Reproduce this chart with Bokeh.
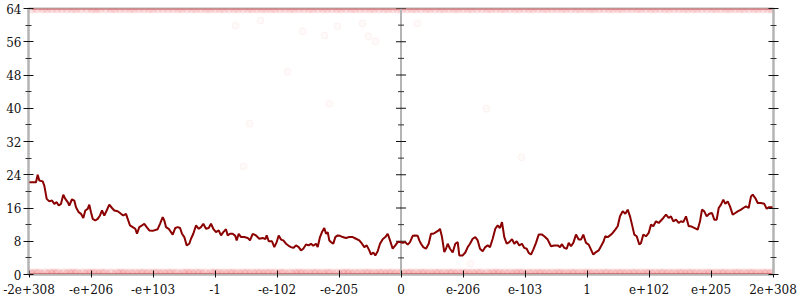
from bokeh.plotting import figure
from bokeh.models import Range1d, FixedTicker, LinearAxis, CustomLabelingPolicy
from bokeh.embed import file_html
from bokeh.resources import INLINE

# ---- data -------------------------------------------------------------
tick_pos = [-372, -310, -248, -186, -124, -62, 0, 62, 124, 186, 248, 310, 372]
tick_labels = ["-2e+308", "-e+206", "-e+103", "-1", "-e-102", "-e-205", "0",
               "e-206", "e-103", "1", "e+102", "e+205", "2e+308"]
y_major = [0, 8, 16, 24, 32, 40, 48, 56, 64]
y_minor = [4, 12, 20, 28, 36, 44, 52, 60]

line_x = [-372, -365.0, -363.3, -361.7, -358.3, -356.7, -354.3, -351.7, -349.0, -346.7,
          -344.3, -342.3, -340.0, -337.7, -335.7, -333.3, -331.7, -329.0, -326.7, -325.0,
          -322.3, -320.0, -317.7, -315.7, -313.3, -311.7, -310.0, -308.3, -305.7, -303.3,
          -301.0, -299.0, -296.7, -294.3, -291.7, -289.0, -286.7, -283.3, -280.0, -277.7,
          -275.0, -273.3, -271.0, -268.3, -265.7, -264.0, -261.7, -259.0, -256.7, -254.3,
          -251.7, -248.3, -243.3, -241.0, -238.3, -236.7, -235.0, -232.3, -230.0, -228.3,
          -225.7, -223.3, -221.0, -219.0, -216.7, -214.3, -211.7, -210.0, -207.7, -205.0,
          -202.3, -200.0, -197.7, -195.0, -192.3, -190.0, -187.7, -185.0, -182.3, -180.0,
          -177.7, -175.0, -173.3, -171.0, -168.3, -165.7, -164.3, -162.3, -160.0, -156.7,
          -153.3, -151.0, -148.3, -145.0, -141.7, -138.3, -135.7, -134.3, -132.3, -129.0,
          -126.7, -124.3, -122.3, -120.0,
          -117.7, -115.0, -112.3, -110.0, -107.7, -105.0, -102.3, -100.0, -97.7, -95.0,
          -92.3, -90.0, -87.7, -85.0, -83.3, -81.0, -79.0, -76.7, -75.0, -73.3,
          -71.7, -70.0, -67.7, -65.7, -63.3, -61.0, -58.3, -55.0, -51.7, -48.3,
          -45.0, -41.7, -39.0, -36.7, -34.3, -31.7, -30.0, -27.7, -25.7, -23.3,
          -21.0, -18.3, -15.7, -13.3, -11.0, -8.3, -5.7, -3.3, -1.0, 1.7,
          4.3, 6.7, 9.0, 11.7, 14.3, 16.7, 18.3, 20.0, 22.3, 25.0,
          27.7, 30.0, 32.3, 35.0, 37.7, 39.0, 41.0, 43.3, 45.0, 46.7,
          49.0, 51.7, 54.3, 56.7, 58.3, 61.7, 64.3, 66.7, 69.0, 71.7,
          74.3, 76.7, 79.0, 81.7, 84.3, 86.7, 89.0, 91.7, 94.3, 96.7,
          99.0, 101.0, 103.3, 105.7, 108.3, 111.0, 113.3, 115.7, 118.3, 121.0,
          123.3, 125.7,
          127.7, 130.0, 132.3, 135.0, 137.7, 141.0, 143.3, 146.7, 150.0, 153.3,
          156.7, 159.0, 161.0, 163.3, 165.7, 167.7, 170.0, 172.3, 175.0, 177.7,
          180.0, 182.3, 185.0, 187.7, 190.0, 192.3, 195.0, 197.7, 200.0, 202.3,
          204.3, 206.7, 209.0, 211.7, 214.3, 216.7, 219.0, 221.7, 224.3, 226.7,
          229.0, 231.0, 233.3, 235.7, 238.3, 240.0, 242.3, 245.0, 247.7, 250.0,
          252.3, 255.0, 257.7, 260.0, 262.3, 265.0, 267.7, 270.0, 272.3, 275.0,
          277.7, 280.0, 282.3, 285.0, 287.7, 290.0, 293.3, 296.7, 299.0, 301.0,
          303.3, 305.7, 308.3, 311.0, 313.3, 315.7, 317.7, 320.0, 322.3, 324.3,
          326.7, 329.0, 331.7, 334.3, 336.7, 340.0, 342.3, 345.0, 347.7, 350.0,
          351.7, 354.3, 356.7, 360.0, 363.3, 365.7, 367.7, 370.0, 372.3]
line_y = [22.2, 22.2, 24.0, 22.6, 22.4, 21.4, 18.2, 17.6, 17.8, 17.0,
          17.4, 16.6, 17.0, 19.2, 18.2, 17.4, 16.6, 18.1, 17.8, 16.2,
          15.0, 14.6, 13.6, 15.4, 15.8, 16.8, 15.0, 13.4, 13.0, 13.4,
          14.2, 15.4, 14.2, 15.4, 16.8, 16.0, 15.4, 15.2, 14.6, 14.2,
          14.6, 13.4, 11.8, 11.4, 11.0, 9.8, 11.4, 11.8, 12.2, 11.4,
          10.6, 10.5, 10.9, 12.2, 13.8, 13.0, 11.4, 11.0, 10.2, 9.6,
          11.2, 11.4, 11.2, 9.8, 9.0, 7.0, 7.4, 8.6, 9.8, 11.8,
          11.0, 11.4, 12.2, 11.0, 11.2, 12.2, 11.0, 10.2, 10.6, 9.4,
          10.2, 10.9, 9.4, 9.8, 9.8, 9.3, 8.2, 9.8, 9.0, 9.0,
          8.8, 8.2, 9.8, 9.4, 8.6, 8.8, 8.5, 9.4, 8.0, 8.0,
          6.6, 7.8, 9.4, 8.4,
          8.2, 7.4, 6.9, 6.6, 6.4, 7.0, 6.6, 5.8, 6.2, 7.2,
          7.0, 7.4, 6.9, 7.4, 6.6, 9.0, 10.2, 11.2, 9.8, 10.2,
          8.2, 7.8, 7.4, 9.0, 9.4, 9.3, 9.0, 8.8, 9.0, 9.0,
          8.6, 8.2, 7.4, 6.6, 7.0, 5.8, 4.8, 5.3, 4.6, 5.6,
          7.4, 8.5, 9.0, 9.8, 8.2, 6.2, 7.0, 7.8, 7.8, 7.6,
          7.8, 7.2, 7.8, 9.3, 9.4, 9.3, 8.2, 7.4, 6.6, 6.2,
          7.4, 9.8, 9.8, 10.2, 10.6, 11.0, 9.0, 5.4, 6.2, 7.4,
          6.2, 5.3, 7.4, 7.8, 4.6, 4.6, 5.3, 6.6, 7.4, 8.6,
          9.0, 8.2, 6.2, 5.6, 6.6, 7.0, 6.6, 8.6, 11.0, 11.8,
          11.2, 12.6, 9.0, 7.4, 7.8, 8.5, 7.4, 8.0, 7.0, 7.4,
          6.4, 6.2,
          5.2, 4.8, 6.0, 7.6, 9.6, 9.6, 9.2, 8.4, 6.8, 7.0,
          7.0, 6.6, 7.3, 6.4, 6.2, 7.6, 6.8, 7.6, 9.6, 8.4,
          8.4, 9.6, 7.6, 7.2, 6.0, 4.8, 5.4, 5.8, 6.8, 7.8,
          9.2, 9.0, 9.4, 10.0, 10.8, 11.6, 14.0, 15.2, 14.6, 15.6,
          14.0, 12.0, 9.6, 9.2, 7.2, 7.6, 9.6, 9.2, 10.0, 12.0,
          11.6, 12.8, 12.4, 13.0, 13.6, 14.4, 13.6, 14.0, 12.8, 13.2,
          12.4, 12.8, 12.6, 14.0, 11.6, 11.6, 11.2, 10.8, 12.8, 15.6,
          15.2, 14.0, 14.6, 14.8, 13.2, 13.2, 16.0, 16.8, 18.0, 17.0,
          17.6, 16.4, 14.4, 14.8, 15.2, 15.6, 16.0, 16.4, 16.0, 18.8,
          19.2, 18.4, 17.2, 17.2, 17.0, 15.8, 16.2, 16.2, 16.2]

# dense bands of points at the extremes
low_x = [-371, -366, -362, -356, -351, -347, -343, -337, -332, -328, -324, -318, -313,
         -309, -305, -300, -296, -290, -284, -280, -276, -271, -266, -261, -257, -252,
         -247, -243, -238, -233, -229, -224, -218, -214, -210, -205, -201, -196, -190,
         -186, -182, -177, -172, -168, -163, -158, -154, -149, -144, -140, -135, -131,
         -126, -121, -117, -111, -106, -102, -98, -93, -88, -84, -79, -74, -70, -64,
         -59, -55, -51, -46, -41, -36, -32, -27, -22, -18, -13, -9, -4, 1, 6, 10, 15,
         20, 24, 29, 34, 38, 43, 48, 52, 57, 62, 66, 71, 76, 80, 86, 91, 95, 99, 104,
         109, 114, 118, 122, 127, 132, 137, 141, 146, 151, 156, 160, 165, 170, 174, 179,
         184, 188, 193, 198, 203, 207, 212, 217, 221, 226, 231, 235, 240, 245, 249, 254,
         259, 263, 268, 273, 278, 282, 287, 291, 296, 301, 306, 310, 315, 320, 324, 329,
         334, 338, 343, 348, 352, 357, 362, 366, 371]
high_x = [-369, -364, -358, -354, -349, -344, -339, -334, -329, -325, -320, -314, -309,
          -305, -301, -295, -290, -286, -281, -276, -271, -267, -262, -257, -252, -248,
          -243, -238, -233, -228, -223, -219, -214, -209, -205, -200, -195, -191, -186,
          -181, -177, -172, -167, -163, -158, -153, -149, -144, -139, -135, -130, -126,
          -121, -116, -111, -107, -102, -97, -92, -88, -83, -78, -74, -69, -64, -60,
          -55, -50, -46, -41, -36, -31, -27, -22, -17, -13, -8, -3, 1, 6, 11, 15, 20,
          25, 29, 34, 39, 43, 48, 53, 57, 62, 67, 71, 76, 81, 86, 90, 95, 100, 104, 109,
          114, 118, 123, 128, 132, 137, 142, 146, 151, 156, 161, 165, 170, 175, 179, 184,
          189, 193, 198, 203, 208, 212, 217, 221, 226, 231, 236, 240, 245, 250, 254, 259,
          264, 268, 273, 278, 283, 287, 292, 296, 301, 306, 311, 315, 320, 325, 329, 334,
          339, 343, 348, 353, 357, 362, 367, 371]
low_y = 0
high_y = 64

# sparse faint points in between
mid_x = [-165.5, -140.5, -98.5, -63.5, -38.5, -76.5, -32.5, -25.5, -113.5, -71.5,
         -151.5, -157.5, 16.5, 69.5, 85.5, 120.5]
mid_y = [59.9, 61.1, 58.5, 59.7, 60.4, 57.5, 57.3, 56.1, 48.8, 41.1,
         36.3, 26.0, 60.4, 2.6, 39.9, 28.2]

# ---- styles -----------------------------------------------------------
FONT = "DejaVu Serif"
AXIS_GRAY = "#b4b4b4"
DOT = "#e8282c"

p = figure(width=800, height=300, output_backend="svg", toolbar_location=None,
           x_range=Range1d(-372.5, 372.5), y_range=Range1d(0, 64),
           min_border_left=28, min_border_right=27, min_border_top=8,
           min_border_bottom=26, background_fill_color="white",
           border_fill_color="white")
p.grid.visible = False
p.outline_line_color = AXIS_GRAY
p.outline_line_width = 2

yt = FixedTicker(ticks=y_major, minor_ticks=y_minor)
xt = FixedTicker(ticks=tick_pos, minor_ticks=[])

def style_axis(ax):
    ax.axis_line_color = AXIS_GRAY
    ax.axis_line_width = 2
    ax.major_tick_line_color = "#111111"
    ax.minor_tick_line_color = "#333333"
    ax.major_label_text_font = FONT
    ax.major_label_text_font_size = "12px"
    ax.major_label_text_color = "#111111"

ya = p.yaxis[0]
ya.ticker = yt
style_axis(ya)
ya.major_tick_in = 5
ya.major_tick_out = 5
ya.minor_tick_in = 3
ya.minor_tick_out = 3
ya.major_label_standoff = 2

xa = p.xaxis[0]
xa.ticker = xt
style_axis(xa)
xa.major_tick_in = 4
xa.major_tick_out = 3
xa.major_label_standoff = 6
xa.major_label_overrides = {k: v for k, v in zip(tick_pos, tick_labels)}

ra = LinearAxis(ticker=yt)
style_axis(ra)
ra.major_tick_in = 5
ra.major_tick_out = 5
ra.minor_tick_in = 3
ra.minor_tick_out = 3
ra.major_label_standoff = 0
ra.major_label_policy = CustomLabelingPolicy(
    code="for (let i = 0; i < indices.size; i++) { indices.unset(i) }; return indices")
p.add_layout(ra, "right")

# point bands
p.scatter(low_x, [low_y] * len(low_x), size=12, fill_color=DOT, fill_alpha=0.16,
          line_color=None)
p.scatter(high_x, [high_y] * len(high_x), size=10, fill_color=DOT, fill_alpha=0.13,
          line_color=None)
p.line([low_x[0], low_x[-1]], [low_y, low_y], line_color=DOT, line_width=3, line_alpha=0.85)
p.line([high_x[0], high_x[-1]], [high_y, high_y], line_color=DOT, line_width=3, line_alpha=0.25)
p.scatter(mid_x, mid_y, size=7, fill_color=DOT, fill_alpha=0.025,
          line_color=DOT, line_alpha=0.05)

# central vertical axis at x = 0
p.line([0, 0], [y_major[0], y_major[-1]], line_color=AXIS_GRAY, line_width=2)
p.scatter([0] * len(y_major), y_major, marker="dash", size=10, line_color="#111111")
p.scatter([0] * len(y_minor), y_minor, marker="dash", size=6, line_color="#333333")

# main series
p.line(line_x, line_y, line_color="#8b0000", line_width=2)

open("out.html", "w").write(file_html(p, INLINE))
